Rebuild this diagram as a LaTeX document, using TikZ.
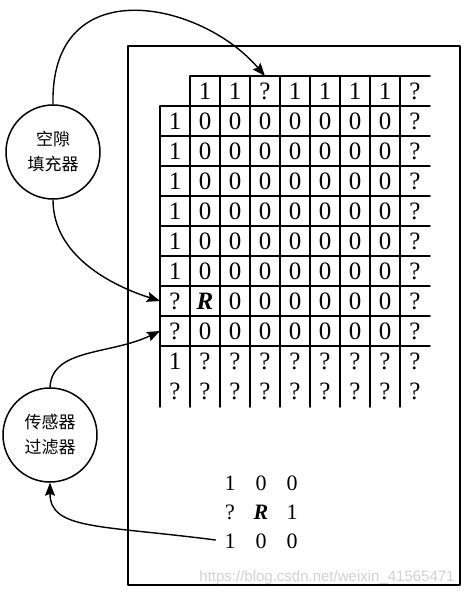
\documentclass[tikz,border=0pt]{standalone}
\usepackage{fontspec}
\setmainfont{Liberation Serif}
\newfontfamily\cjk{Noto Sans CJK SC}
\newfontfamily\wmfont{Liberation Sans}
\usetikzlibrary{arrows.meta}

\begin{document}
\begin{tikzpicture}[x=1pt,y=-1pt,line cap=round,line join=round,
  filt/.style={circle,draw,line width=1.5pt,minimum size=94pt,inner sep=0pt,align=center,font=\cjk\fontsize{17}{25}\selectfont},
  cell/.style={minimum size=30pt,inner sep=0pt,outer sep=0pt,font=\fontsize{25}{28}\selectfont},
  win/.style={inner sep=1pt,font=\fontsize{22}{26}\selectfont},
  arr/.style={-{Stealth[length=13pt,width=10pt,inset=2pt]},line width=1.4pt},
  gridline/.style={line width=1.5pt}]
\useasboundingbox (0,0) rectangle (472,596);
% outer frame
\draw[line width=1.6pt] (128,46) rectangle (460,585);
% grid of cells
\foreach \row [count=\i from 0] in {{,1,1,?,1,1,1,1,?},
  {1,0,0,0,0,0,0,0,?},{1,0,0,0,0,0,0,0,?},{1,0,0,0,0,0,0,0,?},
  {1,0,0,0,0,0,0,0,?},{1,0,0,0,0,0,0,0,?},{1,0,0,0,0,0,0,0,?},
  {?,\textbf{\textit{R}},0,0,0,0,0,0,?},{?,0,0,0,0,0,0,0,?},
  {1,?,?,?,?,?,?,?,?},{?,?,?,?,?,?,?,?,?}}
  \foreach \v [count=\j from 0] in \row
    \node[cell] (c-\i-\j) at (175+30*\j,91+30*\i) {\v};
\draw[gridline] (190,76) -- (430,76);
\foreach \i in {1,...,9}
  \draw[gridline] (c-\i-0.north west) -- (430,76+30*\i);
\draw[gridline] (c-1-0.north west) -- (160,407);
\foreach \j in {1,...,8}
  \draw[gridline] (c-0-\j.north west) -- (160+30*\j,407);
% window around R
\foreach \row [count=\i] in {{1,0,0},{?,\textbf{\textit{R}},1},{1,0,0}}
  \foreach \v [count=\j] in \row
    \node[win] (m-\i-\j) at (199+31*\j,454+29*\i) {\v};
% filters
\node[filt] (gap) at (53,152) {空隙\\填充器};
\node[filt] (sens) at (50,435) {传感器\\过滤器};
% connectors
\draw[arr] (gap.north) .. controls (50,-30) and (200,0) .. (c-0-3.north);
\draw[arr] (gap.south) .. controls (53,255) and (110,285) .. (c-7-0.west);
\draw[arr] (sens.north) .. controls (52,348) and (110,355) .. (c-8-0.west);
\draw[arr,shorten <=8pt] (m-3-1.west) .. controls (100,525) and (50,530) .. (sens.south);
\node[font=\wmfont\fontsize{15}{18}\selectfont,text=black!18] (mark) at (327,578) {https://blog.csdn.net/weixin\_41565471};
\end{tikzpicture}
\end{document}
